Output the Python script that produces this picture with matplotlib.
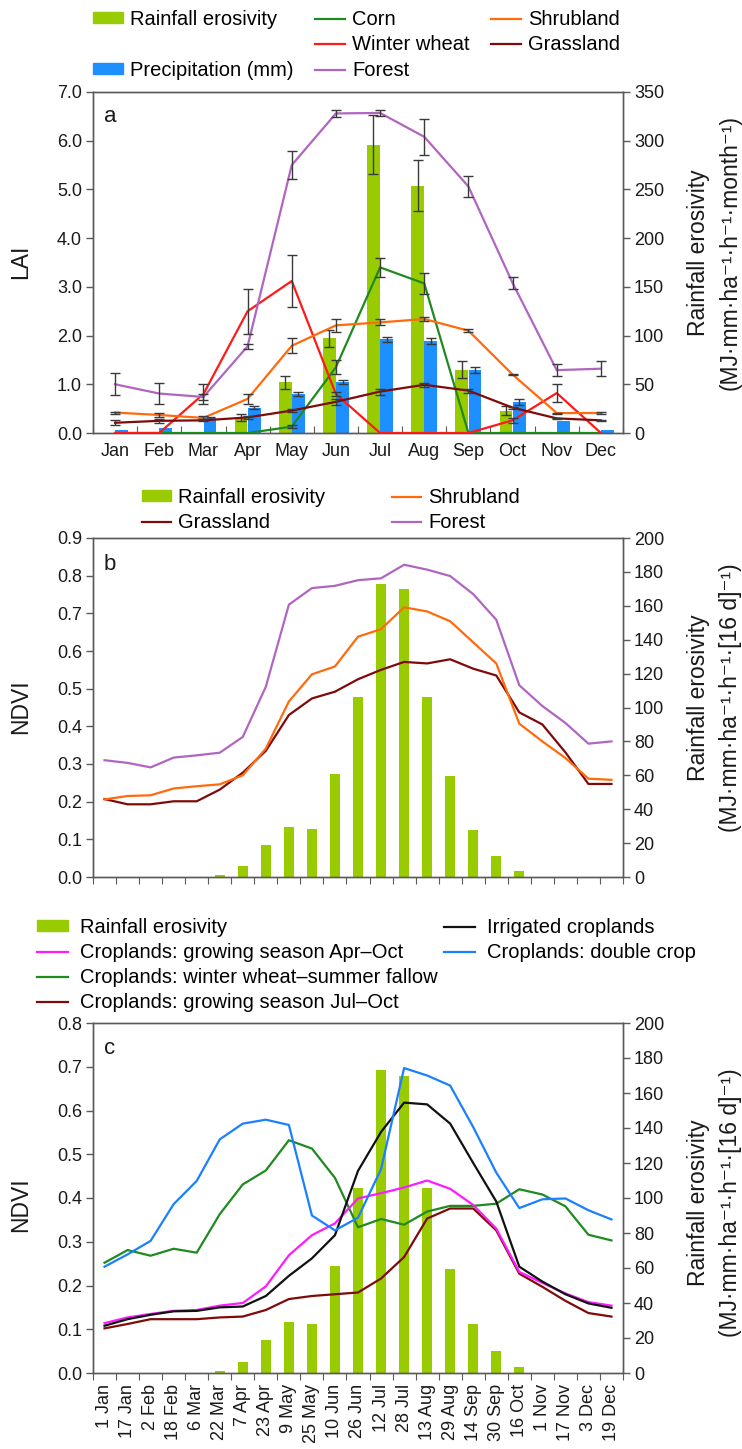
import matplotlib
matplotlib.use("Agg")
import matplotlib.pyplot as plt
import numpy as np
from matplotlib.lines import Line2D
from matplotlib.patches import Patch

plt.rcParams['font.family'] = ['Liberation Sans', 'DejaVu Sans']

# ---------------- data ----------------
months = ['Jan', 'Feb', 'Mar', 'Apr', 'May', 'Jun', 'Jul', 'Aug', 'Sep', 'Oct', 'Nov', 'Dec']

# panel a: LAI (left axis) and monthly rainfall erosivity / precipitation (right axis)
lai_corn = [0, 0, 0, 0, 0.13, 1.35, 3.40, 3.07, 0, 0, 0, 0]
lai_corn_err = [0, 0, 0, 0, 0.03, 0.14, 0.19, 0.21, 0, 0, 0, 0]
lai_wheat = [0, 0, 0.80, 2.50, 3.12, 0.80, 0, 0, 0, 0.26, 0.82, 0]
lai_wheat_err = [0, 0, 0.20, 0.46, 0.54, 0.05, 0, 0, 0, 0.05, 0.18, 0]
lai_shrub = [0.42, 0.37, 0.31, 0.70, 1.79, 2.21, 2.27, 2.34, 2.10, 1.20, 0.41, 0.41]
lai_shrub_err = [0.02, 0.04, 0.03, 0.11, 0.15, 0.14, 0.06, 0.05, 0.03, 0.01, 0.01, 0.02]
lai_grass = [0.21, 0.25, 0.26, 0.32, 0.46, 0.64, 0.85, 0.99, 0.87, 0.52, 0.30, 0.26]
lai_grass_err = [0.05, 0.04, 0.02, 0.03, 0.03, 0.06, 0.06, 0.04, 0.04, 0.02, 0.01, 0.01]
lai_forest = [1.00, 0.81, 0.74, 1.78, 5.50, 6.56, 6.57, 6.08, 5.06, 3.08, 1.29, 1.32]
lai_forest_err = [0.23, 0.22, 0.07, 0.05, 0.29, 0.07, 0.06, 0.37, 0.21, 0.12, 0.13, 0.15]
erosivity_month = [0, 0, 0, 16, 52, 97, 296, 254, 65, 23, 0, 0]
erosivity_month_err = [0, 0, 0, 4, 7, 9, 30, 26, 9, 5, 0, 0]
precip = [3, 5, 15, 26, 40, 52, 96, 94, 65, 32, 12, 3]
precip_err = [0, 0, 1, 1.5, 2.5, 2, 3, 3, 3, 3, 0, 0]

# panels b and c: 16-day periods
periods = ['1 Jan', '17 Jan', '2 Feb', '18 Feb', '6 Mar', '22 Mar', '7 Apr', '23 Apr',
           '9 May', '25 May', '10 Jun', '26 Jun', '12 Jul', '28 Jul', '13 Aug', '29 Aug',
           '14 Sep', '30 Sep', '16 Oct', '1 Nov', '17 Nov', '3 Dec', '19 Dec']
erosivity_16d = [0, 0, 0, 0, 0, 1.4, 6.5, 18.7, 29.4, 28.2, 61, 106, 173, 170, 106,
                 59.5, 28, 12.3, 3.4, 0, 0, 0, 0]

ndvi_grass = [0.207, 0.193, 0.193, 0.201, 0.201, 0.232, 0.277, 0.335, 0.430, 0.474, 0.492,
              0.525, 0.550, 0.571, 0.567, 0.578, 0.553, 0.535, 0.437, 0.405, 0.331, 0.247, 0.247]
ndvi_shrub = [0.206, 0.215, 0.217, 0.235, 0.241, 0.246, 0.270, 0.341, 0.466, 0.538, 0.559,
              0.638, 0.658, 0.716, 0.705, 0.679, 0.623, 0.567, 0.407, 0.360, 0.316, 0.261, 0.258]
ndvi_forest = [0.310, 0.303, 0.291, 0.317, 0.323, 0.330, 0.372, 0.505, 0.723, 0.767, 0.773,
               0.788, 0.793, 0.829, 0.816, 0.799, 0.751, 0.683, 0.509, 0.454, 0.409, 0.354, 0.360]

crop_apr_oct = [0.114, 0.127, 0.135, 0.142, 0.144, 0.154, 0.160, 0.198, 0.269, 0.315, 0.342,
                0.399, 0.411, 0.424, 0.440, 0.421, 0.384, 0.330, 0.231, 0.206, 0.182, 0.162, 0.154]
crop_wheat_fallow = [0.252, 0.281, 0.268, 0.284, 0.275, 0.363, 0.431, 0.463, 0.532, 0.513, 0.446,
                     0.333, 0.352, 0.339, 0.369, 0.382, 0.382, 0.387, 0.420, 0.408, 0.381, 0.316, 0.303]
crop_jul_oct = [0.102, 0.112, 0.123, 0.123, 0.123, 0.127, 0.129, 0.144, 0.169, 0.176, 0.180,
                0.184, 0.216, 0.265, 0.353, 0.376, 0.376, 0.326, 0.227, 0.197, 0.165, 0.137, 0.129]
crop_irrigated = [0.108, 0.123, 0.133, 0.141, 0.142, 0.150, 0.152, 0.176, 0.222, 0.262, 0.315,
                  0.462, 0.551, 0.618, 0.614, 0.570, 0.480, 0.392, 0.243, 0.209, 0.180, 0.159, 0.149]
crop_double = [0.243, 0.271, 0.302, 0.386, 0.439, 0.534, 0.570, 0.579, 0.567, 0.360, 0.326,
               0.355, 0.466, 0.697, 0.680, 0.657, 0.562, 0.458, 0.377, 0.397, 0.399, 0.372, 0.351]

# ---------------- style ----------------
W, H = 742, 1449
GREEN_BAR = '#99cc00'
BLUE_BAR = '#1e8fff'
C_CORN = '#1f8a1f'
C_WHEAT = '#ff1a1a'
C_SHRUB = '#ff6a0d'
C_GRASS = '#7f0a0a'
C_FOREST = '#b066c0'
C_MAGENTA = '#ff1aff'
C_BLACK = '#111111'
C_DOUBLE = '#1a80ff'
SPINE = '#5a5a5a'
ERR = '#3a3a3a'
TXT = '#1a1a1a'
TICK_FS = 13
LEG_FS = 14.5
LW = 1.6

fig = plt.figure(figsize=(W / 100, H / 100), dpi=100)


def px_axes(left, top, right, bottom):
    return fig.add_axes([left / W, 1 - bottom / H, (right - left) / W, (bottom - top) / H])


def setup(ax, ax2):
    ax.set_zorder(ax2.get_zorder() + 1)
    ax.patch.set_visible(False)
    for a in (ax, ax2):
        for s in a.spines.values():
            s.set_color(SPINE)
            s.set_linewidth(1.0)
        a.tick_params(axis='y', direction='out', length=5, width=1, color=SPINE,
                      labelsize=TICK_FS, labelcolor=TXT, pad=3)


def err(ax, xs, ys, es):
    xs, ys, es = np.asarray(xs, float), np.asarray(ys, float), np.asarray(es, float)
    m = es > 0
    ax.errorbar(xs[m], ys[m], yerr=es[m], fmt='none', ecolor=ERR, elinewidth=1,
                capsize=3.5, capthick=1, zorder=5)


def side_labels(left_text, right_text, y_left, y_right):
    fig.text(21 / W, 1 - y_left / H, left_text, rotation=90, ha='center', va='center',
             fontsize=16.5, color=TXT)
    fig.text(714 / W, 1 - y_right / H, right_text, rotation=90, ha='center', va='center',
             fontsize=16.5, color=TXT, linespacing=1.5, multialignment='center')


blank = Line2D([], [], color='none')

# ---------------- panel a ----------------
ax_a = px_axes(93, 92, 623, 433)
ax_a2 = ax_a.twinx()
setup(ax_a, ax_a2)
xm = np.arange(len(months))

ax_a2.bar(xm - 0.15, erosivity_month, width=0.29, color=GREEN_BAR, zorder=2)
ax_a2.bar(xm + 0.15, precip, width=0.29, color=BLUE_BAR, zorder=2)
err(ax_a2, xm - 0.15, erosivity_month, erosivity_month_err)
err(ax_a2, xm + 0.15, precip, precip_err)

for vals, errs, col in [(lai_corn, lai_corn_err, C_CORN), (lai_wheat, lai_wheat_err, C_WHEAT),
                        (lai_shrub, lai_shrub_err, C_SHRUB), (lai_grass, lai_grass_err, C_GRASS),
                        (lai_forest, lai_forest_err, C_FOREST)]:
    ax_a.plot(xm, vals, color=col, lw=LW, zorder=3)
    err(ax_a, xm, vals, errs)

ax_a.set_xlim(-0.5, 11.5)
ax_a.set_ylim(0, 7)
ax_a2.set_ylim(0, 350)
ax_a.set_yticks(np.arange(0, 7.01, 1.0))
ax_a.set_yticklabels([f'{v:.1f}' for v in np.arange(0, 7.01, 1.0)])
ax_a2.set_yticks(np.arange(0, 351, 50))
ax_a.set_xticks(np.arange(-0.5, 12, 1))
ax_a.set_xticks(xm, minor=True)
ax_a.set_xticklabels(months, minor=True)
ax_a.tick_params(axis='x', which='major', direction='in', length=5, color=SPINE, labelbottom=False)
ax_a.tick_params(axis='x', which='minor', length=0, pad=7, labelsize=TICK_FS, labelcolor=TXT)
ax_a.text(0.02, 0.912, 'a', transform=ax_a.transAxes, fontsize=16, color=TXT, va='baseline')
side_labels('LAI', 'Rainfall erosivity\n(MJ·mm·ha⁻¹·h⁻¹·month⁻¹)', 262, 253)

h_a = [Patch(color=GREEN_BAR), blank, Patch(color=BLUE_BAR),
       Line2D([], [], color=C_CORN, lw=LW), Line2D([], [], color=C_WHEAT, lw=LW),
       Line2D([], [], color=C_FOREST, lw=LW),
       Line2D([], [], color=C_SHRUB, lw=LW), Line2D([], [], color=C_GRASS, lw=LW), blank]
l_a = ['Rainfall erosivity', '', 'Precipitation (mm)', 'Corn', 'Winter wheat', 'Forest',
       'Shrubland', 'Grassland', '']
fig.legend(h_a, l_a, loc='upper left', bbox_to_anchor=(93 / W, 1 - 10 / H), ncol=3,
           frameon=False, fontsize=LEG_FS, handlelength=1.5, handleheight=0.45,
           handletextpad=0.35, columnspacing=1.05, labelspacing=0.32, borderpad=0,
           borderaxespad=0)

# ---------------- panel b ----------------
xp = np.arange(len(periods))


def period_axes(top, bottom, ymax):
    ax = px_axes(93, top, 623, bottom)
    ax2 = ax.twinx()
    setup(ax, ax2)
    ax2.bar(xp, erosivity_16d, width=0.45, color=GREEN_BAR, zorder=2)
    ax.set_xlim(-0.5, len(periods) - 0.5)
    ax.set_ylim(0, ymax)
    ax2.set_ylim(0, 200)
    yt = np.arange(0, ymax + 0.001, 0.1)
    ax.set_yticks(yt)
    ax.set_yticklabels([f'{v:.1f}' for v in yt])
    ax2.set_yticks(np.arange(0, 201, 20))
    ax.set_xticks(np.arange(-0.5, len(periods), 1))
    ax.tick_params(axis='x', which='major', direction='out', length=5, color=SPINE,
                   labelbottom=False)
    return ax, ax2


ax_b, ax_b2 = period_axes(538, 877, 0.9)
ax_b.plot(xp, ndvi_grass, color=C_GRASS, lw=LW, zorder=3)
ax_b.plot(xp, ndvi_shrub, color=C_SHRUB, lw=LW, zorder=3)
ax_b.plot(xp, ndvi_forest, color=C_FOREST, lw=LW, zorder=3)
ax_b.text(0.02, 0.906, 'b', transform=ax_b.transAxes, fontsize=16, color=TXT, va='baseline')
side_labels('NDVI', 'Rainfall erosivity\n(MJ·mm·ha⁻¹·h⁻¹·[16 d]⁻¹)', 707, 698)

h_b = [Patch(color=GREEN_BAR), Line2D([], [], color=C_GRASS, lw=LW),
       Line2D([], [], color=C_SHRUB, lw=LW), Line2D([], [], color=C_FOREST, lw=LW)]
l_b = ['Rainfall erosivity', 'Grassland', 'Shrubland', 'Forest']
fig.legend(h_b, l_b, loc='upper left', bbox_to_anchor=(142 / W, 1 - 488 / H), ncol=2,
           frameon=False, fontsize=LEG_FS, handlelength=1.45, handleheight=0.45,
           handletextpad=0.35, columnspacing=3.3, labelspacing=0.3, borderpad=0,
           borderaxespad=0)

# ---------------- panel c ----------------
ax_c, ax_c2 = period_axes(1023, 1373, 0.8)
ax_c.plot(xp, crop_jul_oct, color=C_GRASS, lw=LW, zorder=3)
ax_c.plot(xp, crop_wheat_fallow, color=C_CORN, lw=LW, zorder=3)
ax_c.plot(xp, crop_apr_oct, color=C_MAGENTA, lw=LW, zorder=3)
ax_c.plot(xp, crop_irrigated, color=C_BLACK, lw=LW, zorder=3)
ax_c.plot(xp, crop_double, color=C_DOUBLE, lw=LW, zorder=3)
ax_c.set_xticks(xp, minor=True)
ax_c.set_xticklabels(periods, minor=True, rotation=90)
ax_c.tick_params(axis='x', which='minor', length=0, pad=8, labelsize=TICK_FS, labelcolor=TXT)
ax_c.text(0.02, 0.911, 'c', transform=ax_c.transAxes, fontsize=16, color=TXT, va='baseline')
side_labels('NDVI', 'Rainfall erosivity\n(MJ·mm·ha⁻¹·h⁻¹·[16 d]⁻¹)', 1205, 1203)

h_c = [Patch(color=GREEN_BAR), Line2D([], [], color=C_MAGENTA, lw=LW),
       Line2D([], [], color=C_CORN, lw=LW), Line2D([], [], color=C_GRASS, lw=LW),
       Line2D([], [], color=C_BLACK, lw=LW), Line2D([], [], color=C_DOUBLE, lw=LW),
       blank, blank]
l_c = ['Rainfall erosivity', 'Croplands: growing season Apr–Oct',
       'Croplands: winter wheat–summer fallow', 'Croplands: growing season Jul–Oct',
       'Irrigated croplands', 'Croplands: double crop', '', '']
fig.legend(h_c, l_c, loc='upper left', bbox_to_anchor=(37 / W, 1 - 918 / H), ncol=2,
           frameon=False, fontsize=LEG_FS, handlelength=1.55, handleheight=0.45,
           handletextpad=0.6, columnspacing=0.3, labelspacing=0.3, borderpad=0,
           borderaxespad=0)

fig.savefig('out.png', dpi=100)
